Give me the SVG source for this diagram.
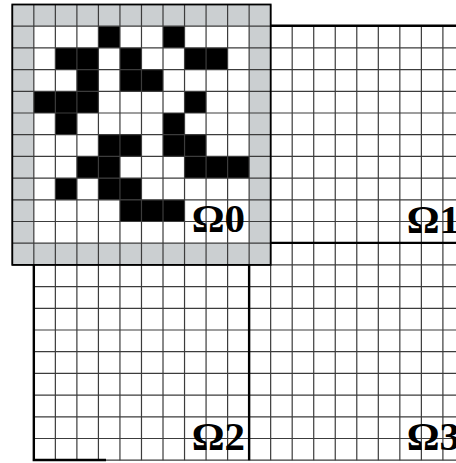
<svg xmlns="http://www.w3.org/2000/svg" width="456" height="463" viewBox="0 0 456 463">
<style>
.grid{stroke:#3c3c3c;stroke-width:1.2;fill:none}
.thick{stroke:#000;stroke-width:2.4;fill:none}
.halo{fill:#cbcfd1}
.cell{fill:#000}
.lbl{font-family:"Liberation Serif","Times New Roman",serif;font-size:41px;font-weight:bold;fill:#000;text-anchor:end}
</style>
<rect width="456" height="463" fill="#fff"/>
<g id="omega0">
<rect class="halo" x="12.3" y="4.5" width="258.36" height="260.4"/>
<rect fill="#fff" x="33.83" y="26.2" width="215.3" height="217"/>
<g id="omega0-cells">
<rect class="cell" x="98.42" y="26.2" width="21.53" height="21.7"/>
<rect class="cell" x="163.01" y="26.2" width="21.53" height="21.7"/>
<rect class="cell" x="55.36" y="47.9" width="43.06" height="21.7"/>
<rect class="cell" x="119.95" y="47.9" width="21.53" height="21.7"/>
<rect class="cell" x="184.54" y="47.9" width="43.06" height="21.7"/>
<rect class="cell" x="76.89" y="69.6" width="21.53" height="21.7"/>
<rect class="cell" x="119.95" y="69.6" width="43.06" height="21.7"/>
<rect class="cell" x="33.83" y="91.3" width="64.59" height="21.7"/>
<rect class="cell" x="184.54" y="91.3" width="21.53" height="21.7"/>
<rect class="cell" x="55.36" y="113" width="21.53" height="21.7"/>
<rect class="cell" x="163.01" y="113" width="21.53" height="21.7"/>
<rect class="cell" x="98.42" y="134.7" width="43.06" height="21.7"/>
<rect class="cell" x="163.01" y="134.7" width="43.06" height="21.7"/>
<rect class="cell" x="76.89" y="156.4" width="43.06" height="21.7"/>
<rect class="cell" x="184.54" y="156.4" width="64.59" height="21.7"/>
<rect class="cell" x="55.36" y="178.1" width="21.53" height="21.7"/>
<rect class="cell" x="98.42" y="178.1" width="43.06" height="21.7"/>
<rect class="cell" x="119.95" y="199.8" width="64.59" height="21.7"/>
</g>
</g>
<g id="grid">
<path class="grid" d="M12.3 4.5V264.9 M33.83 4.5V460.2 M55.36 4.5V460.2 M76.89 4.5V460.2 M98.42 4.5V460.2 M119.95 4.5V460.2 M141.48 4.5V460.2 M163.01 4.5V460.2 M184.54 4.5V460.2 M206.07 4.5V460.2 M227.6 4.5V460.2 M249.13 4.5V460.2 M270.66 4.5V460.2 M292.19 26.2V460.2 M313.72 26.2V460.2 M335.25 26.2V460.2 M356.78 26.2V460.2 M378.31 26.2V460.2 M399.84 26.2V460.2 M421.37 26.2V460.2 M442.9 26.2V460.2"/>
<path class="grid" d="M12.3 4.5H270.66 M12.3 26.2H456 M12.3 47.9H456 M12.3 69.6H456 M12.3 91.3H456 M12.3 113H456 M12.3 134.7H456 M12.3 156.4H456 M12.3 178.1H456 M12.3 199.8H456 M12.3 221.5H456 M12.3 243.2H456 M12.3 264.9H456 M33.83 286.6H456 M33.83 308.3H456 M33.83 330H456 M33.83 351.7H456 M33.83 373.4H456 M33.83 395.1H456 M33.83 416.8H456 M33.83 438.5H456 M33.83 460.2H456"/>
</g>
<g id="boundaries">
<rect x="12.3" y="4.5" width="258.36" height="260.4" fill="none" stroke="#000" stroke-width="1.8"/>
<path class="thick" d="M270.66 25.8H456 M270.66 242.9H456 M249.13 264.9V460.2 M33.83 264.9V460.2 M32.6 460H106"/>
</g>
<g id="omega1"><text class="lbl" x="460" y="233">Ω1</text></g>
<g id="omega0-label"><text class="lbl" x="245" y="232">Ω0</text></g>
<g id="omega2"><text class="lbl" x="245" y="450">Ω2</text></g>
<g id="omega3"><text class="lbl" x="460" y="450">Ω3</text></g>
</svg>
